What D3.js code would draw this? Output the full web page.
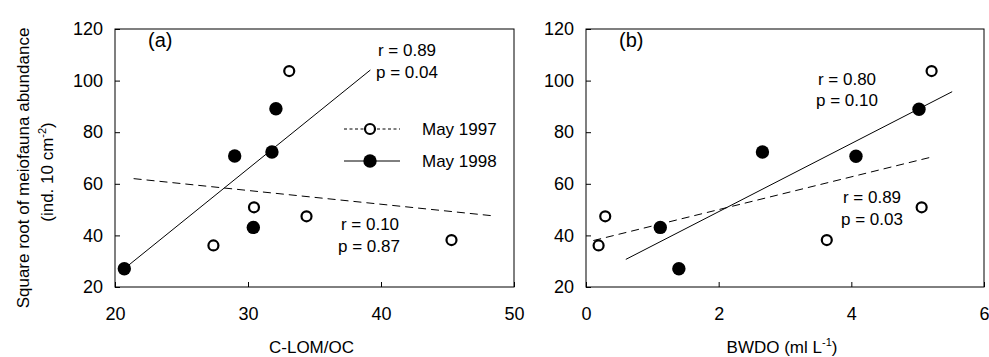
<!DOCTYPE html>
<html><head><meta charset="utf-8">
<script src="https://cdn.jsdelivr.net/npm/d3@7"></script>
<style>body{margin:0;background:#fff}svg text{font-family:"Liberation Sans",Arial,sans-serif;fill:#000}</style>
</head><body><svg id="c" width="989" height="357"></svg>
<script>
// Panel (a): C-LOM/OC
const a1997x = [33.1, 27.4, 30.45, 34.4, 45.3];
const a1997y = [103.7, 36.1, 50.9, 47.4, 38.2];
const a1998x = [20.7, 29.0, 31.8, 32.1, 30.4];
const a1998y = [27.1, 70.8, 72.3, 89.1, 43.1];
const aFit1997 = [[21.4, 62.0], [48.4, 47.6]];
const aFit1998 = [[20.7, 27.1], [39.2, 104.1]];
// Panel (b): BWDO
const b1997x = [0.19, 0.29, 3.63, 5.06, 5.21];
const b1997y = [36.1, 47.4, 38.2, 50.9, 103.7];
const b1998x = [1.12, 1.40, 2.66, 4.07, 5.02];
const b1998y = [43.1, 27.1, 72.3, 70.7, 88.9];
const bFit1997 = [[0.11, 38.0], [5.23, 70.5]];
const bFit1998 = [[0.60, 30.7], [5.52, 95.7]];
const yTicks = [20, 40, 60, 80, 100, 120];
const aTicks = [20, 30, 40, 50];
const bTicks = [0, 2, 4, 6];

const svg = d3.select("#c");
const FS = 17;

function panel(cfg) {
  const x = d3.scaleLinear().domain(cfg.xd).range([cfg.x0, cfg.x1]);
  const y = d3.scaleLinear().domain([20, 120]).range([287, 29]);
  const g = svg.append("g");
  g.append("rect").attr("x", cfg.x0).attr("y", 29).attr("width", cfg.x1 - cfg.x0).attr("height", 258)
    .attr("fill", "none").attr("stroke", "#000").attr("stroke-width", 1);
  // inward ticks
  const ya = g.append("g").attr("transform", `translate(${cfg.x0},0)`)
    .call(d3.axisLeft(y).tickValues(yTicks).tickFormat(d3.format("d")).tickSizeInner(-5).tickSizeOuter(0).tickPadding(12));
  const xa = g.append("g").attr("transform", `translate(0,287)`)
    .call(d3.axisBottom(x).tickValues(cfg.ticks).tickFormat(d3.format("d")).tickSizeInner(-5).tickSizeOuter(0).tickPadding(20));
  [ya, xa].forEach(a => {
    a.select(".domain").remove();
    a.selectAll("text").attr("font-size", 18).attr("font-family", '"Liberation Sans",Arial,sans-serif');
  });
  const line = d3.line().x(d => x(d[0])).y(d => y(d[1]));
  g.append("path").attr("d", line(cfg.fit97)).attr("fill", "none").attr("stroke", "#000")
    .attr("stroke-width", 1).attr("stroke-dasharray", "8,5");
  g.append("path").attr("d", line(cfg.fit98)).attr("fill", "none").attr("stroke", "#000").attr("stroke-width", 1);
  g.selectAll(".o").data(d3.zip(cfg.ox, cfg.oy)).join("circle")
    .attr("cx", d => x(d[0])).attr("cy", d => y(d[1])).attr("r", 5)
    .attr("fill", "#fff").attr("stroke", "#000").attr("stroke-width", 2.2);
  g.selectAll(".f").data(d3.zip(cfg.fx, cfg.fy)).join("circle")
    .attr("cx", d => x(d[0])).attr("cy", d => y(d[1])).attr("r", 6.7).attr("fill", "#000");
  g.append("text").attr("x", cfg.x0 + 33).attr("y", 47).attr("font-size", 20).text(cfg.label);
  cfg.notes.forEach(n => {
    g.append("text").attr("x", n[0]).attr("y", n[1]).attr("font-size", FS).attr("text-anchor", "middle").text(n[2]);
  });
  g.append("text").attr("x", (cfg.x0 + cfg.x1) / 2 - 3).attr("y", 353).attr("font-size", FS)
    .attr("text-anchor", "middle").html(cfg.xlabel);
  return {x, y};
}

panel({x0: 115, x1: 514, xd: [20, 50], ticks: aTicks, label: "(a)",
  ox: a1997x, oy: a1997y, fx: a1998x, fy: a1998y, fit97: aFit1997, fit98: aFit1998,
  notes: [[407, 56, "r = 0.89"], [407, 78, "p = 0.04"], [370, 230, "r = 0.10"], [369, 252, "p = 0.87"]],
  xlabel: "C-LOM/OC"});
panel({x0: 586, x1: 984, xd: [0, 6], ticks: bTicks, label: "(b)",
  ox: b1997x, oy: b1997y, fx: b1998x, fy: b1998y, fit97: bFit1997, fit98: bFit1998,
  notes: [[847, 85, "r = 0.80"], [847, 106, "p = 0.10"], [872, 203, "r = 0.89"], [872, 225, "p = 0.03"]],
  xlabel: 'BWDO (ml L<tspan dy="-7" font-size="11">-1</tspan><tspan dy="7">)</tspan>'});

// legend
const lg = svg.append("g");
lg.append("line").attr("x1", 344).attr("x2", 400).attr("y1", 129).attr("y2", 129)
  .attr("stroke", "#000").attr("stroke-width", 1).attr("stroke-dasharray", "3,2.5");
lg.append("circle").attr("cx", 370).attr("cy", 129).attr("r", 5).attr("fill", "#fff").attr("stroke", "#000").attr("stroke-width", 2.2);
lg.append("text").attr("x", 422).attr("y", 135).attr("font-size", FS).text("May 1997");
lg.append("line").attr("x1", 344).attr("x2", 400).attr("y1", 161).attr("y2", 161).attr("stroke", "#000").attr("stroke-width", 1);
lg.append("circle").attr("cx", 370).attr("cy", 161).attr("r", 6.7).attr("fill", "#000");
lg.append("text").attr("x", 422).attr("y", 167).attr("font-size", FS).text("May 1998");

// y label
svg.append("text").attr("transform", "translate(29,168) rotate(-90)").attr("font-size", FS)
  .attr("text-anchor", "middle").text("Square root of meiofauna abundance");
svg.append("text").attr("transform", "translate(53,172) rotate(-90)").attr("font-size", FS)
  .attr("text-anchor", "middle").html('(ind. 10 cm<tspan dy="-7" font-size="11">-2</tspan><tspan dy="7">)</tspan>');
</script></body></html>
